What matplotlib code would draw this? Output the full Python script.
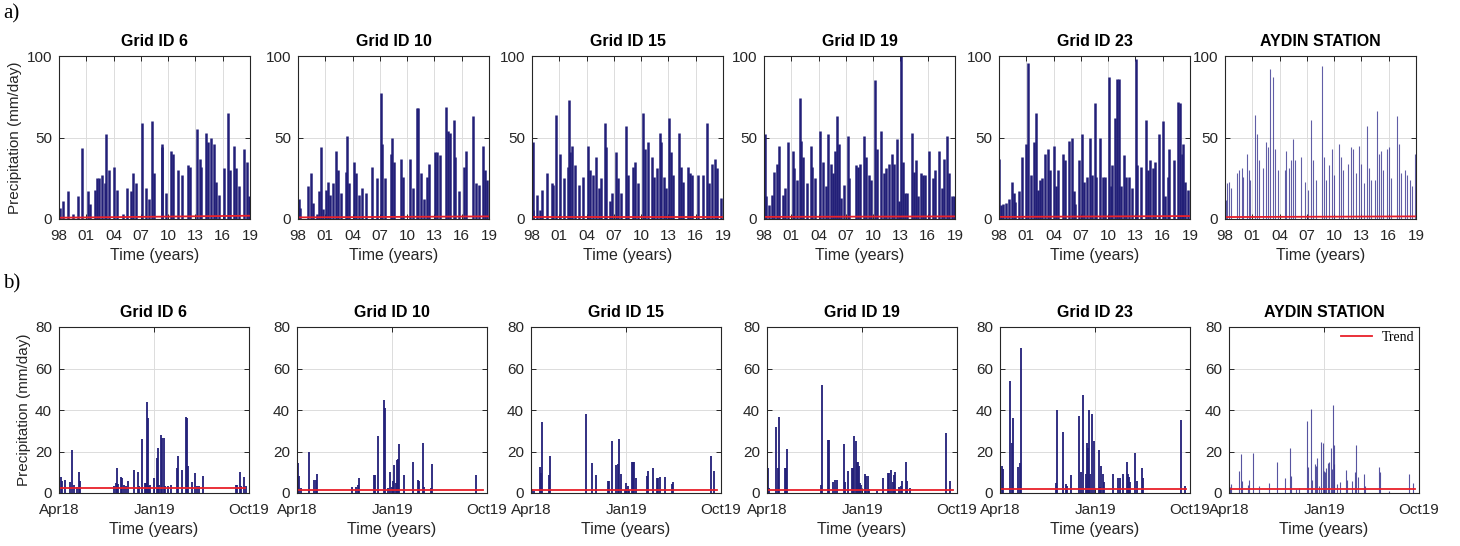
import pandas as pd
import matplotlib
matplotlib.use('Agg')
import matplotlib.pyplot as plt

# ---- a) daily precipitation 1998-2019, main peaks (year, mm/day) ----
g6_t = [1998.11, 1998.48, 1999.00, 1999.55, 2000.14, 2000.51, 2001.14, 2001.40, 2001.96, 2002.14,
        2002.44, 2002.69, 2003.03, 2003.18, 2003.55, 2004.10, 2004.36, 2005.02, 2005.47, 2005.95,
        2006.13, 2006.50, 2007.13, 2007.61, 2007.91, 2008.24, 2008.43, 2009.28, 2009.35, 2009.76,
        2010.31, 2010.50, 2011.12, 2011.49, 2012.16, 2012.42, 2013.16, 2013.45, 2013.64, 2014.12,
        2014.38, 2014.71, 2015.01, 2015.30, 2015.56, 2016.11, 2016.59, 2016.85, 2017.22, 2017.48,
        2017.82, 2018.33, 2018.63, 2018.89]
g6_p = [6.5, 11, 17, 3, 14, 43.5, 17, 9, 18, 25,
        25, 27, 22, 52, 30, 32, 18, 3, 19, 17,
        28, 22, 59, 19, 12, 60, 28, 44, 46, 16,
        42, 40, 30, 27, 33, 32, 55, 37, 32, 53,
        47, 50, 46, 23, 15, 31, 65, 30, 45, 31,
        20, 43, 35, 14]

g10_t = [1998.07, 1998.26, 1999.11, 1999.44, 1999.62, 2000.10, 2000.36, 2000.58, 2000.76, 2001.13,
         2001.28, 2001.50, 2001.87, 2002.20, 2002.38, 2002.75, 2003.23, 2003.42, 2003.64, 2004.15,
         2004.37, 2004.71, 2005.07, 2005.44, 2006.11, 2006.66, 2007.14, 2007.25, 2007.54, 2008.21,
         2008.35, 2008.50, 2009.31, 2009.50, 2010.34, 2010.60, 2011.08, 2011.23, 2011.52, 2011.82,
         2012.19, 2012.44, 2013.07, 2013.29, 2013.59, 2014.25, 2014.54, 2014.73, 2015.10, 2015.28,
         2015.65, 2016.20, 2016.50, 2017.23, 2017.53, 2017.86, 2018.34, 2018.52, 2018.74]
g10_p = [12, 7, 20, 28, 10, 3, 17, 44, 6, 18,
         23, 15, 22, 42, 30, 16, 29, 51, 22, 35,
         28, 15, 19, 16, 32, 25, 77, 46, 25, 40,
         50, 35, 37, 26, 37, 19, 68, 68, 28, 12,
         26, 34, 41, 41, 39, 69, 54, 53, 61, 38,
         17, 32, 42, 63, 22, 21, 45, 30, 24]

g15_t = [1998.07, 1998.15, 1998.51, 1998.88, 1999.14, 1999.62, 2000.17, 2000.35, 2000.65, 2001.13,
         2001.53, 2001.94, 2002.05, 2002.19, 2002.38, 2002.74, 2003.22, 2003.63, 2004.14, 2004.33,
         2004.66, 2005.06, 2005.32, 2005.58, 2006.05, 2006.16, 2006.53, 2006.79, 2007.19, 2007.42,
         2007.82, 2008.30, 2008.56, 2009.07, 2009.29, 2009.62, 2010.21, 2010.47, 2010.76, 2011.20,
         2011.46, 2011.76, 2012.05, 2012.20, 2012.49, 2012.78, 2013.08, 2013.23, 2013.52, 2014.18,
         2014.40, 2014.62, 2015.14, 2015.36, 2015.58, 2016.24, 2016.76, 2017.27, 2017.46, 2017.75,
         2018.08, 2018.37, 2018.74]
g15_p = [47, 5.5, 15, 5.5, 18, 28, 22, 21, 64, 40,
         25, 32, 73, 41, 45, 33, 21, 26, 45, 30,
         27, 38, 19, 25, 59, 44, 11, 16, 41, 25,
         16, 57, 27, 32, 35, 22, 65, 43, 47, 38,
         26, 31, 53, 47, 26, 19, 62, 41, 27, 53,
         32, 23, 32, 28, 27, 27, 27, 59, 22, 34,
         37, 31, 13]

g19_t = [1998.07, 1998.22, 1998.59, 1998.92, 1999.14, 1999.47, 1999.69, 2000.13, 2000.35, 2000.68,
         2001.16, 2001.35, 2001.60, 2001.97, 2002.12, 2002.34, 2002.71, 2003.15, 2003.33, 2003.59,
         2004.18, 2004.47, 2004.84, 2005.06, 2005.36, 2005.54, 2005.83, 2006.05, 2006.20, 2006.46,
         2006.83, 2007.19, 2007.34, 2008.08, 2008.30, 2008.59, 2009.03, 2009.22, 2009.51, 2009.77,
         2010.21, 2010.39, 2010.84, 2011.17, 2011.39, 2011.76, 2012.12, 2012.34, 2012.60, 2012.86,
         2013.08, 2013.23, 2013.48, 2013.74, 2014.26, 2014.44, 2014.70, 2014.95, 2015.21, 2015.43,
         2015.65, 2016.17, 2016.61, 2016.79, 2017.27, 2017.53, 2017.79, 2018.15, 2018.37, 2018.63,
         2018.89]
g19_p = [52, 14, 8.5, 15, 29, 34, 45, 15, 19, 47,
         42, 31, 24, 74, 48, 38, 22, 45, 32, 25,
         54, 35, 20, 52, 34, 28, 42, 63, 46, 13,
         21, 51, 25, 33, 32, 34, 51, 38, 27, 24,
         85, 43, 54, 28, 31, 34, 40, 34, 49, 11,
         100, 35, 16, 16, 53, 29, 36, 14, 28, 27,
         27, 42, 25, 30, 42, 19, 37, 51, 28, 14,
         14]

g23_t = [1998.04, 1998.22, 1998.44, 1998.81, 1999.07, 1999.43, 1999.62, 1999.80, 2000.21, 2000.54,
         2001.02, 2001.16, 2001.53, 2001.82, 2002.05, 2002.27, 2002.49, 2002.71, 2003.08, 2003.44,
         2003.59, 2004.03, 2004.29, 2004.47, 2005.02, 2005.25, 2005.72, 2005.98, 2006.24, 2006.39,
         2006.75, 2007.12, 2007.30, 2007.64, 2007.97, 2008.22, 2008.52, 2008.70, 2009.11, 2009.44,
         2009.70, 2010.14, 2010.28, 2010.47, 2010.76, 2011.02, 2011.20, 2011.46, 2011.75, 2012.01,
         2012.31, 2012.60, 2013.01, 2013.15, 2013.59, 2014.11, 2014.33, 2014.62, 2014.88, 2015.18,
         2015.54, 2016.02, 2016.24, 2016.54, 2016.72, 2017.20, 2017.71, 2017.90, 2018.12, 2018.26,
         2018.49, 2018.82]
g23_p = [37, 8.5, 9.5, 10, 12, 23, 16, 10.5, 17, 38,
         46, 96, 27, 47, 65, 18, 24, 25, 40, 43,
         30, 45, 20, 30, 40, 36, 48, 50, 17, 9,
         36, 52, 23, 26, 50, 27, 71, 26, 50, 26,
         26, 87, 20, 33, 62, 86, 86, 20, 39, 26,
         26, 19, 98, 33, 32, 61, 30, 36, 31, 35,
         52, 60, 14, 26, 43, 36, 72, 71, 40, 46,
         23, 18]

st_t = [1998.07, 1998.22, 1998.44, 1998.62, 1999.31, 1999.53, 1999.82, 1999.97, 2000.37, 2000.59,
        2000.77, 2001.35, 2001.50, 2001.72, 2002.16, 2002.52, 2002.70, 2002.92, 2003.32, 2003.51,
        2003.83, 2004.56, 2004.74, 2005.00, 2005.25, 2005.47, 2005.73, 2006.39, 2006.82, 2007.08,
        2007.44, 2007.70, 2007.99, 2008.68, 2008.86, 2009.08, 2009.45, 2009.74, 2009.99, 2010.54,
        2010.72, 2011.02, 2011.56, 2011.82, 2012.11, 2012.36, 2012.73, 2012.98, 2013.24, 2013.57,
        2013.82, 2014.04, 2014.44, 2014.70, 2014.92, 2015.10, 2015.39, 2015.83, 2016.01, 2016.30,
        2016.92, 2017.14, 2017.40, 2017.76, 2018.01, 2018.31, 2018.56, 2018.85]
st_p = [11.5, 22, 23, 19, 28, 30, 31, 26, 40, 30,
        24, 64, 52, 36, 31, 47, 44, 92, 87, 43,
        30, 30, 42, 31, 36, 49, 36, 38, 23, 18,
        61, 36, 24, 94, 38, 24, 33, 43, 27, 46,
        38, 30, 34, 44, 43, 28, 45, 34, 22, 57,
        31, 24, 24, 66, 40, 42, 30, 43, 44, 25,
        63, 46, 28, 30, 27, 24, 20, 40]

# linear trend (start, end) in mm/day
trend_a = [(0.8, 2.0), (1.0, 1.6), (1.5, 1.5), (1.3, 1.6), (1.3, 1.8), (1.2, 1.6)]

# ---- b) Apr 2018 - Oct 2019, days since 2018-04-01 ----
b6_d = [6, 10, 17, 31, 37, 42, 52, 57, 60, 159, 163, 167, 171, 178, 183, 188, 193, 198, 217, 227,
        232, 238, 247, 250, 254, 257, 261, 263, 274, 283, 285, 289, 294, 298, 302, 306, 315, 323, 339, 342,
        354, 365, 369, 372, 385, 392, 398, 404, 416, 510, 513, 522, 526, 535, 539]
b6_p = [7.5, 6, 6.5, 5.5, 20.5, 4, 3, 10, 6, 3.5, 5, 12, 4.5, 7.5, 7, 4, 3.5, 6, 11, 10,
        3.5, 26, 5, 5, 44, 36, 3.5, 4, 7, 17, 21.5, 4, 28, 26.5, 26.5, 3.5, 3.5, 4, 12, 18,
        11, 36.5, 36, 13, 5.5, 9.5, 3.5, 3.5, 8, 4, 4, 10, 3.5, 7.5, 3.5]

b10_d = [3, 7, 12, 34, 50, 54, 58, 159, 171, 175, 178, 221, 225, 235, 250, 254, 263, 268, 274, 277,
         281, 285, 288, 292, 295, 309, 336, 350, 353, 362, 365, 387, 389, 517]
b10_p = [14.5, 8, 2.5, 20, 6.5, 6.5, 9, 3, 3, 4, 7, 8.5, 8.5, 27.5, 45, 41, 2.5, 10, 3, 6,
         13.5, 5, 16, 16.5, 23.5, 8.5, 15, 6.5, 6, 24, 3, 2.5, 14, 8.5]

b15_d = [1, 4, 8, 25, 29, 32, 53, 56, 159, 176, 187, 223, 226, 233, 246, 250, 254, 260, 270, 275,
         279, 284, 291, 295, 297, 303, 336, 338, 351, 362, 367, 371, 387, 406, 410, 518, 529]
b15_p = [14.5, 2, 1, 12.5, 9.5, 34, 8.5, 18, 38, 14.5, 8.5, 6, 6, 25, 13.5, 14, 26, 9, 1.5, 5,
         3.5, 1.5, 15, 15, 15, 7, 8, 10.5, 12, 7, 7, 7.5, 7.5, 4.5, 5.5, 18, 10.5]

b19_d = [2, 6, 27, 31, 34, 51, 55, 57, 155, 159, 176, 178, 189, 197, 201, 222, 226, 235, 245, 249,
         252, 256, 259, 262, 265, 269, 272, 282, 285, 291, 295, 316, 335, 348, 352, 357, 362, 365, 369, 382,
         387, 390, 402, 405, 413, 517, 527]
b19_p = [12, 2.5, 32, 12, 36.5, 12, 12, 21, 4, 52, 25.5, 25.5, 5.5, 6.5, 6.5, 23.5, 5.5, 10.5, 12, 12,
         27.5, 25, 15, 15, 13, 5, 4, 9, 8, 8, 2, 1, 7, 9.5, 9.5, 11, 5.5, 8.5, 10, 3,
         3.5, 6, 15, 6, 2.5, 29, 6]

b23_d = [6, 10, 30, 34, 37, 53, 57, 60, 161, 164, 181, 190, 193, 204, 228, 234, 238, 247, 251, 254,
         258, 261, 265, 272, 286, 289, 292, 296, 300, 325, 341, 345, 356, 365, 369, 373, 376, 390, 394, 409,
         412, 522, 533]
b23_p = [13, 11.5, 54, 24, 36, 12.5, 14.5, 70, 5, 40, 29.5, 4.5, 3.5, 8.5, 37, 10, 47, 9, 24, 21.5,
         40, 9, 38, 25, 20.5, 3, 13, 9, 5.5, 9, 7, 7, 9, 15, 9, 7.5, 5.5, 19.5, 6, 12,
         7, 35, 3.5]

bst_d = [2, 7, 29, 34, 37, 54, 58, 69, 87, 114, 138, 162, 177, 180, 193, 202, 224, 228, 236, 240,
         248, 251, 255, 260, 264, 270, 273, 277, 281, 285, 289, 293, 296, 299, 302, 304, 312, 320, 337, 339,
         354, 362, 365, 371, 390, 393, 434, 436, 462, 520, 532]
bst_p = [2.7, 4.5, 10.5, 19, 6, 4, 6.5, 19.5, 3.5, 5, 15, 7, 21.5, 8, 2, 2.5, 34.5, 12.5, 40.5, 6.5,
         14, 13, 17, 3.5, 24.5, 24, 10.5, 10, 12, 14.5, 15, 21.5, 11.5, 42.5, 23, 14, 4.5, 5.5, 11, 6.5,
         6, 10, 23, 7.5, 9, 3.5, 12.5, 10, 1, 9, 5]

trend_b = [2.3, 1.6, 1.5, 1.6, 1.9, 1.7]

titles = ['Grid ID 6', 'Grid ID 10', 'Grid ID 15', 'Grid ID 19', 'Grid ID 23', 'AYDIN STATION']
year_ticks = [1998, 2001, 2004, 2007, 2010, 2013, 2016, 2019]
year_labels = ['98', '01', '04', '07', '10', '13', '16', '19']
month_labels = ['Apr18', 'Jan19', 'Oct19']

start = pd.Timestamp('2018-04-01')
month_ticks = [(pd.Timestamp(d) - start).days for d in ['2018-04-01', '2019-01-01', '2019-10-01']]

navy = '#221f78'
red = '#e8202a'
dark = '#262626'
sans = 'Liberation Sans'
serif = 'Liberation Serif'

plt.rcParams['font.family'] = sans

W, H = 1460, 546
fig = plt.figure(figsize=(W / 100, H / 100), dpi=100)


def px_axes(left, top, width, height):
    return fig.add_axes([left / W, 1 - (top + height) / H, width / W, height / H])


def style(ax, title):
    ax.set_title(title, fontsize=11.5, fontweight='bold', pad=7, color='black')
    ax.tick_params(direction='in', top=True, right=True, length=3.5, width=0.7,
                   labelsize=11, colors=dark, pad=5)
    ax.tick_params(axis='x', pad=7)
    for s in ax.spines.values():
        s.set_color(dark)
        s.set_linewidth(0.8)
    ax.grid(True, color='#dcdcdc', lw=0.7)
    ax.set_axisbelow(True)
    ax.set_xlabel('Time (years)', fontsize=11.5, color=dark, labelpad=4)


top_series = [(g6_t, g6_p), (g10_t, g10_p), (g15_t, g15_p), (g19_t, g19_p), (g23_t, g23_p), (st_t, st_p)]
top_left = [59, 298, 532, 764, 999, 1225]

for i, (t, p) in enumerate(top_series):
    ax = px_axes(top_left[i], 56, 191, 163)
    if i < 5:
        ax.vlines(t, 0, p, color=navy, lw=1.8)
    else:
        ax.vlines(t, 0, p, color='#3a3690', lw=0.8, alpha=0.8)
    ax.plot([1998, 2019], trend_a[i], color=red, lw=1.3)
    ax.set_xlim(1998, 2019)
    ax.set_ylim(0, 100)
    ax.set_xticks(year_ticks)
    ax.set_xticklabels(year_labels)
    ax.set_yticks([0, 50, 100])
    style(ax, titles[i])
    if i == 0:
        ax.set_ylabel('Precipitation (mm/day)', fontsize=11, color=dark, labelpad=3)

bottom_series = [(b6_d, b6_p), (b10_d, b10_p), (b15_d, b15_p), (b19_d, b19_p), (b23_d, b23_p), (bst_d, bst_p)]
bottom_left = [59, 297, 531, 767, 1000, 1229]

for i, (d, p) in enumerate(bottom_series):
    ax = px_axes(bottom_left[i], 327, 190, 166)
    if i < 5:
        ax.vlines(d, 0, p, color=navy, lw=1.3)
    else:
        ax.vlines(d, 0, p, color='#3a3690', lw=0.8, alpha=0.85)
    ax.plot([0, 537], [trend_b[i], trend_b[i]], color=red, lw=1.3, label='Trend')
    ax.set_xlim(month_ticks[0], month_ticks[-1])
    ax.set_ylim(0, 80)
    ax.set_xticks(month_ticks)
    ax.set_xticklabels(month_labels)
    ax.set_yticks([0, 20, 40, 60, 80])
    style(ax, titles[i])
    if i == 0:
        ax.set_ylabel('Precipitation (mm/day)', fontsize=11, color=dark, labelpad=3)
    if i == 5:
        ax.legend(loc='upper right', frameon=False, prop={'family': serif, 'size': 10},
                  handlelength=2.3, borderaxespad=0.1, borderpad=0.2, handletextpad=0.7)

fig.text(3 / W, 1 - 4 / H, 'a)', family=serif, fontsize=15, va='top', ha='left')
fig.text(3 / W, 1 - 274 / H, 'b)', family=serif, fontsize=15, va='top', ha='left')

fig.savefig('out.png', dpi=100)
